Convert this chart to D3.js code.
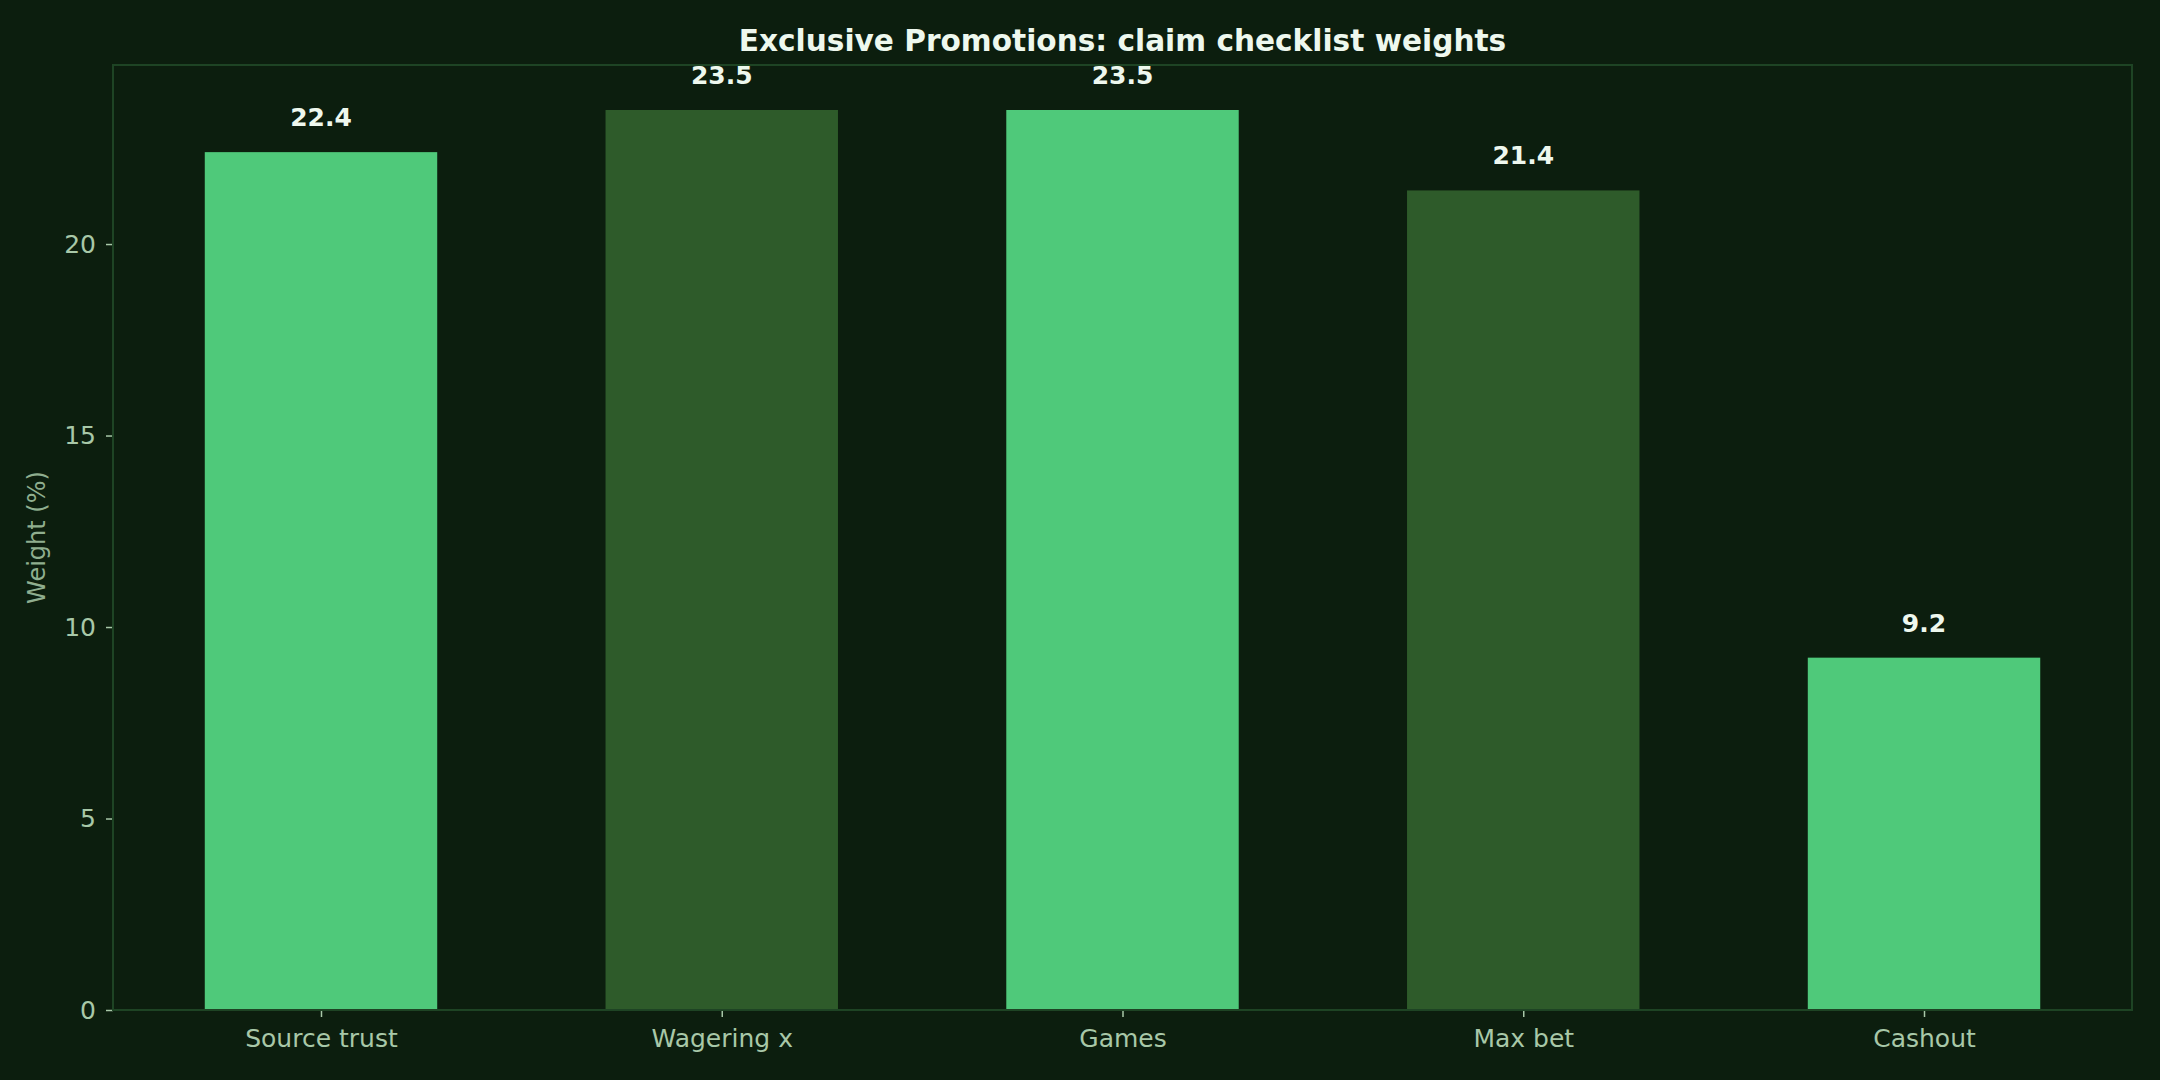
<!DOCTYPE html>
<html>
<head>
<meta charset="utf-8">
<script src="https://cdn.jsdelivr.net/npm/d3@7"></script>
<style>
  html, body { margin: 0; padding: 0; background: #0c1e0e; }
  svg { display: block; font-family: "DejaVu Sans", sans-serif; }
  .axis path { display: none; }
  .axis line { stroke: #a8c8a8; stroke-width: 1.5; }
  .axis text { fill: #a8c8a8; font-size: 25px; font-family: "DejaVu Sans", sans-serif; }
</style>
</head>
<body>
<svg id="chart" width="2160" height="1080"></svg>
<script>
// data
const categories = ['Source trust', 'Wagering x', 'Games', 'Max bet', 'Cashout'];
const weights = [22.4, 23.5, 23.5, 21.4, 9.2];
const yTicks = [0, 5, 10, 15, 20];
const barColors = ['#4fc97a', '#2e5b2a'];

const W = 2160, H = 1080;
const MARGIN = { top: 65, right: 28, bottom: 70, left: 113 };
const w = W - MARGIN.left - MARGIN.right,
  h = H - MARGIN.top - MARGIN.bottom;
const BAR_WIDTH = 0.58;

const svg = d3.select('#chart');
svg.append('rect').attr('width', W).attr('height', H).attr('fill', '#0c1e0e');

const x = d3.scaleLinear()
  .domain([-BAR_WIDTH / 2 - 0.229, categories.length - 1 + BAR_WIDTH / 2 + 0.229])
  .range([0, w]);
const y = d3.scaleLinear()
  .domain([0, d3.max(weights) * 1.05])
  .range([h, 0]);

const g = svg.append('g')
  .attr('transform', 'translate(' + MARGIN.left + ',' + MARGIN.top + ')');

// bars
g.selectAll('rect.bar')
  .data(weights)
  .enter()
  .append('rect')
  .attr('class', 'bar')
  .attr('x', (d, i) => x(i - BAR_WIDTH / 2))
  .attr('width', x(BAR_WIDTH) - x(0))
  .attr('y', d => y(d))
  .attr('height', d => h - y(d))
  .attr('fill', (d, i) => barColors[i % 2]);

// value labels
g.selectAll('text.val')
  .data(weights)
  .enter()
  .append('text')
  .attr('class', 'val')
  .attr('x', (d, i) => x(i))
  .attr('y', d => y(d) - 26)
  .attr('text-anchor', 'middle')
  .attr('fill', '#eef8ee')
  .attr('font-size', 25)
  .attr('font-weight', 'bold')
  .text(d => d.toFixed(1));

// axes
g.append('g')
  .attr('class', 'axis')
  .call(d3.axisLeft(y).tickValues(yTicks).tickSize(7).tickPadding(10).tickFormat(d3.format('d')));

g.append('g')
  .attr('class', 'axis')
  .attr('transform', 'translate(0,' + h + ')')
  .call(d3.axisBottom(x)
    .tickValues(d3.range(categories.length))
    .tickSize(7)
    .tickPadding(12)
    .tickFormat(i => categories[i]));

// frame
g.append('rect')
  .attr('width', w)
  .attr('height', h)
  .attr('fill', 'none')
  .attr('stroke', '#1e4424')
  .attr('stroke-width', 2);

// y label
svg.append('text')
  .attr('transform', 'translate(38,' + (MARGIN.top + h / 2) + ') rotate(-90)')
  .attr('text-anchor', 'middle')
  .attr('dominant-baseline', 'middle')
  .attr('fill', '#8fae8f')
  .attr('font-size', 24)
  .text('Weight (%)');

// title
svg.append('text')
  .attr('x', MARGIN.left + w / 2)
  .attr('y', 51)
  .attr('text-anchor', 'middle')
  .attr('fill', '#eef8ee')
  .attr('font-size', 29.6)
  .attr('font-weight', 'bold')
  .text('Exclusive Promotions: claim checklist weights');
</script>
</body>
</html>
